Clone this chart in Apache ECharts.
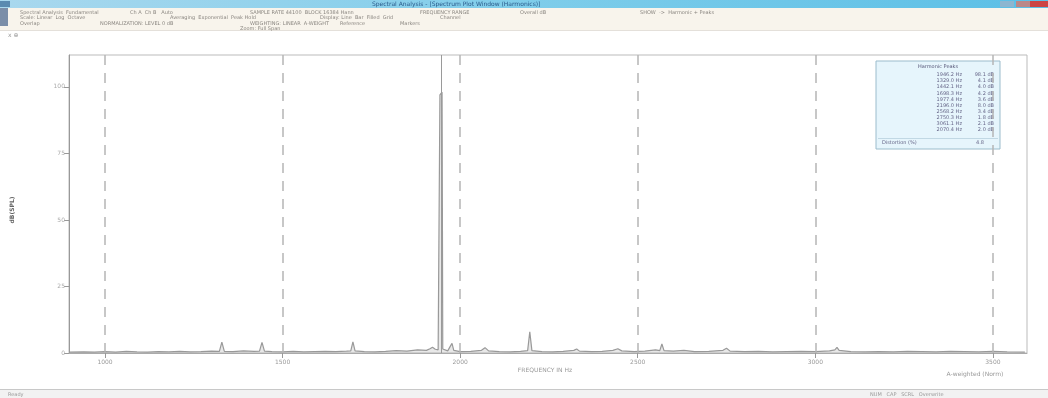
<!DOCTYPE html>
<html>
<head>
<meta charset="utf-8">
<script src="https://cdn.jsdelivr.net/npm/echarts@6/dist/echarts.min.js"></script>
<style>
html,body{margin:0;padding:0;background:#fff;}
#chart{width:1048px;height:398px;}
</style>
</head>
<body>
<div id="chart"></div>
<script>
// ---- data ----
const freqs = [900,940,970,1000,1030,1060,1090,1120,1150,1180,1210,1240,1270,1300,1322,1329,1336,1360,1390,1420,1435,1442,1449,1470,1500,1530,1560,1590,1620,1650,1680,1692,1698,1704,1730,1760,1790,1820,1850,1880,1905,1915,1922,1930,1938,1941,1943,1949,1951,1955,1965,1972,1977,1982,2000,2030,2060,2070,2080,2110,2140,2170,2190,2196,2202,2230,2260,2290,2320,2328,2336,2370,2400,2430,2444,2455,2490,2520,2550,2562,2568,2574,2600,2630,2660,2700,2740,2750,2760,2800,2840,2880,2920,2960,3000,3040,3055,3061,3067,3100,3140,3180,3220,3260,3300,3340,3380,3420,3460,3500,3540,3590];
const amps  = [0.3,0.4,0.3,0.5,0.3,0.6,0.4,0.3,0.5,0.4,0.6,0.4,0.5,0.7,0.6,4.1,0.6,0.5,0.8,0.6,0.7,4.0,0.7,0.5,0.4,0.6,0.4,0.5,0.6,0.5,0.7,0.8,4.2,0.8,0.5,0.4,0.6,0.9,0.7,1.2,1.0,1.6,2.2,1.4,1.2,1.5,97,98,1.5,1.0,0.8,2.5,3.6,1.0,0.5,0.6,1.0,2.0,0.8,0.5,0.4,0.6,0.9,8.0,0.9,0.5,0.4,0.6,1.0,1.5,0.7,0.5,0.6,1.0,1.6,0.8,0.5,0.7,1.2,0.9,3.4,0.9,0.7,1.0,0.5,0.6,1.0,1.8,0.7,0.5,0.6,0.4,0.5,0.6,0.5,0.8,1.2,2.1,1.0,0.5,0.4,0.5,0.4,0.6,0.5,0.4,0.6,0.5,0.4,0.6,0.4,0.3];
const xTicks = [1000,1500,2000,2500,3000,3500];
const xTickLabels = ['1000','1500','2000','2500','3000','3500'];
const yTicks = [0,25,50,75,100];
const cursorFreq = 1946;
const harmFreq = ['1946.2 Hz','1329.0 Hz','1442.1 Hz','1698.3 Hz','1977.4 Hz','2196.0 Hz','2568.2 Hz','2750.3 Hz','3061.1 Hz','2070.4 Hz'];
const harmAmp  = ['98.1 dB','4.1 dB','4.0 dB','4.2 dB','3.6 dB','8.0 dB','3.4 dB','1.8 dB','2.1 dB','2.0 dB'];
const distortion = '4.8';

const chart = echarts.init(document.getElementById('chart'));

const data = freqs.map((f,i)=>[f,amps[i]]);

const gfx = [];
// title bar
gfx.push({type:'rect',shape:{x:0,y:0,width:1048,height:8},style:{fill:new echarts.graphic.LinearGradient(0,0,1,0,[{offset:0,color:'#a9d8ee'},{offset:0.5,color:'#7fcdea'},{offset:1,color:'#5bbfe6'}])},silent:true});
gfx.push({type:'rect',shape:{x:0,y:1,width:10,height:6},style:{fill:'#5a8ab0'}});
gfx.push({type:'text',x:372,y:1,style:{text:'Spectral Analysis - [Spectrum Plot Window (Harmonics)]',font:'6px "DejaVu Sans"',fill:'#2a5a8a'}});
gfx.push({type:'rect',shape:{x:1000,y:1,width:14,height:6},style:{fill:'#8db6d0'}});
gfx.push({type:'rect',shape:{x:1016,y:1,width:14,height:6},style:{fill:'#b88'}});
gfx.push({type:'rect',shape:{x:1030,y:1,width:18,height:6},style:{fill:'#c44'}});
// toolbar
gfx.push({type:'rect',shape:{x:0,y:8,width:1048,height:22},style:{fill:'#f8f4ec'}});
gfx.push({type:'rect',shape:{x:0,y:30,width:1048,height:1},style:{fill:'#e4e0da'}});
gfx.push({type:'rect',shape:{x:0,y:8,width:8,height:18},style:{fill:'#7b8ea8'}});
const tb = [
 [20,10,'Spectral Analysis  Fundamental'],[130,10,'Ch A  Ch B   Auto'],[250,10,'SAMPLE RATE 44100  BLOCK 16384 Hann'],[420,10,'FREQUENCY RANGE'],
 [520,10,'Overall dB'],[640,10,'SHOW  ->  Harmonic + Peaks'],
 [20,15,'Scale: Linear  Log  Octave'],[170,15,'Averaging  Exponential  Peak Hold'],[320,15,'Display: Line  Bar  Filled  Grid'],[440,15,'Channel'],
 [20,21,'Overlap'],[100,21,'NORMALIZATION: LEVEL 0 dB'],[250,21,'WEIGHTING: LINEAR  A-WEIGHT'],[340,21,'Reference'],[400,21,'Markers'],
 [240,26,'Zoom: Full Span']
];
tb.forEach(t=>gfx.push({type:'text',x:t[0],y:t[1],style:{text:t[2],font:'5px "DejaVu Sans"',fill:'#8a8680'}}));
gfx.push({type:'text',x:8,y:32,style:{text:'x ⊕',font:'6px "DejaVu Sans"',fill:'#999'}});
// y axis name
gfx.push({type:'text',x:12,y:210,rotation:Math.PI/2,style:{text:'dB(SPL)',font:'bold 6px "DejaVu Sans"',fill:'#666',align:'center',verticalAlign:'middle'}});
// x axis name
gfx.push({type:'text',x:545,y:370,style:{text:'FREQUENCY IN Hz',font:'6px "DejaVu Sans"',fill:'#999',align:'center',verticalAlign:'middle'}});
gfx.push({type:'text',x:975,y:374,style:{text:'A-weighted (Norm)',font:'6px "DejaVu Sans"',fill:'#999',align:'center',verticalAlign:'middle'}});
// status bar
gfx.push({type:'rect',shape:{x:0,y:390,width:1048,height:8},style:{fill:'#f2f2f2'}});
gfx.push({type:'rect',shape:{x:0,y:389,width:1048,height:1},style:{fill:'#c8c8c8'}});
gfx.push({type:'text',x:8,y:392,style:{text:'Ready',font:'5px "DejaVu Sans"',fill:'#999'}});
gfx.push({type:'text',x:870,y:392,style:{text:'NUM   CAP   SCRL   Overwrite',font:'5px "DejaVu Sans"',fill:'#999'}});
// harmonic table
const tx=876, ty=61, tw=124, th=88;
gfx.push({type:'rect',shape:{x:tx,y:ty,width:tw,height:th},style:{fill:'#e6f5fc',stroke:'#9bbccc',lineWidth:1}});
gfx.push({type:'text',x:tx+tw/2,y:ty+6,style:{text:'Harmonic Peaks',font:'5px "DejaVu Sans"',fill:'#557',align:'center',verticalAlign:'middle'}});
harmFreq.forEach((f,i)=>{
  const y=ty+14+i*6.1;
  gfx.push({type:'text',x:tx+86,y:y,style:{text:f,font:'5px "DejaVu Sans"',fill:'#668',align:'right',verticalAlign:'middle'}});
  gfx.push({type:'text',x:tx+118,y:y,style:{text:harmAmp[i],font:'5px "DejaVu Sans"',fill:'#668',align:'right',verticalAlign:'middle'}});
});
gfx.push({type:'rect',shape:{x:tx+2,y:ty+77,width:tw-4,height:0.6},style:{fill:'#9bbccc'}});
gfx.push({type:'text',x:tx+6,y:ty+82,style:{text:'Distortion (%)',font:'5px "DejaVu Sans"',fill:'#668',verticalAlign:'middle'}});
gfx.push({type:'text',x:tx+100,y:ty+82,style:{text:distortion,font:'5px "DejaVu Sans"',fill:'#668',verticalAlign:'middle'}});

chart.setOption({
  animation:false,
  backgroundColor:'#ffffff',
  grid:{left:69,right:21,top:55,bottom:45,show:true,borderColor:'#bbb',borderWidth:1},
  xAxis:{type:'value',min:898.6,max:3596,
    axisLine:{show:true,onZero:false,lineStyle:{color:'#aaa',width:1}},
    axisTick:{show:true,customValues:xTicks,length:5,lineStyle:{color:'#999'}},
    axisLabel:{show:true,customValues:xTicks,formatter:(v)=>xTickLabels[xTicks.indexOf(v)]||'',fontSize:6,color:'#999',margin:6,fontFamily:'DejaVu Sans'},
    splitLine:{show:false}},
  yAxis:{type:'value',min:0,max:112,interval:25,
    axisLine:{show:true,lineStyle:{color:'#999',width:1}},
    axisTick:{show:true,customValues:yTicks,length:5,lineStyle:{color:'#999'}},
    axisLabel:{show:true,customValues:yTicks,fontSize:6,color:'#aaa',margin:4,fontFamily:'DejaVu Sans'},
    splitLine:{show:false}},
  series:[{
    type:'line',data:data,symbol:'none',smooth:false,
    lineStyle:{color:'#999999',width:1.2},
    areaStyle:{color:'rgba(160,160,160,0.35)',origin:'start'},
    markLine:{silent:true,symbol:'none',label:{show:false},
      data:[
        ...xTicks.map(v=>({xAxis:v,lineStyle:{color:'#b5b5b5',type:[10,8],width:1.5}})),
        {xAxis:cursorFreq,lineStyle:{color:'#9a9a9a',type:'solid',width:1}}
      ]}
  }],
  graphic:gfx
});
</script>
</body>
</html>
